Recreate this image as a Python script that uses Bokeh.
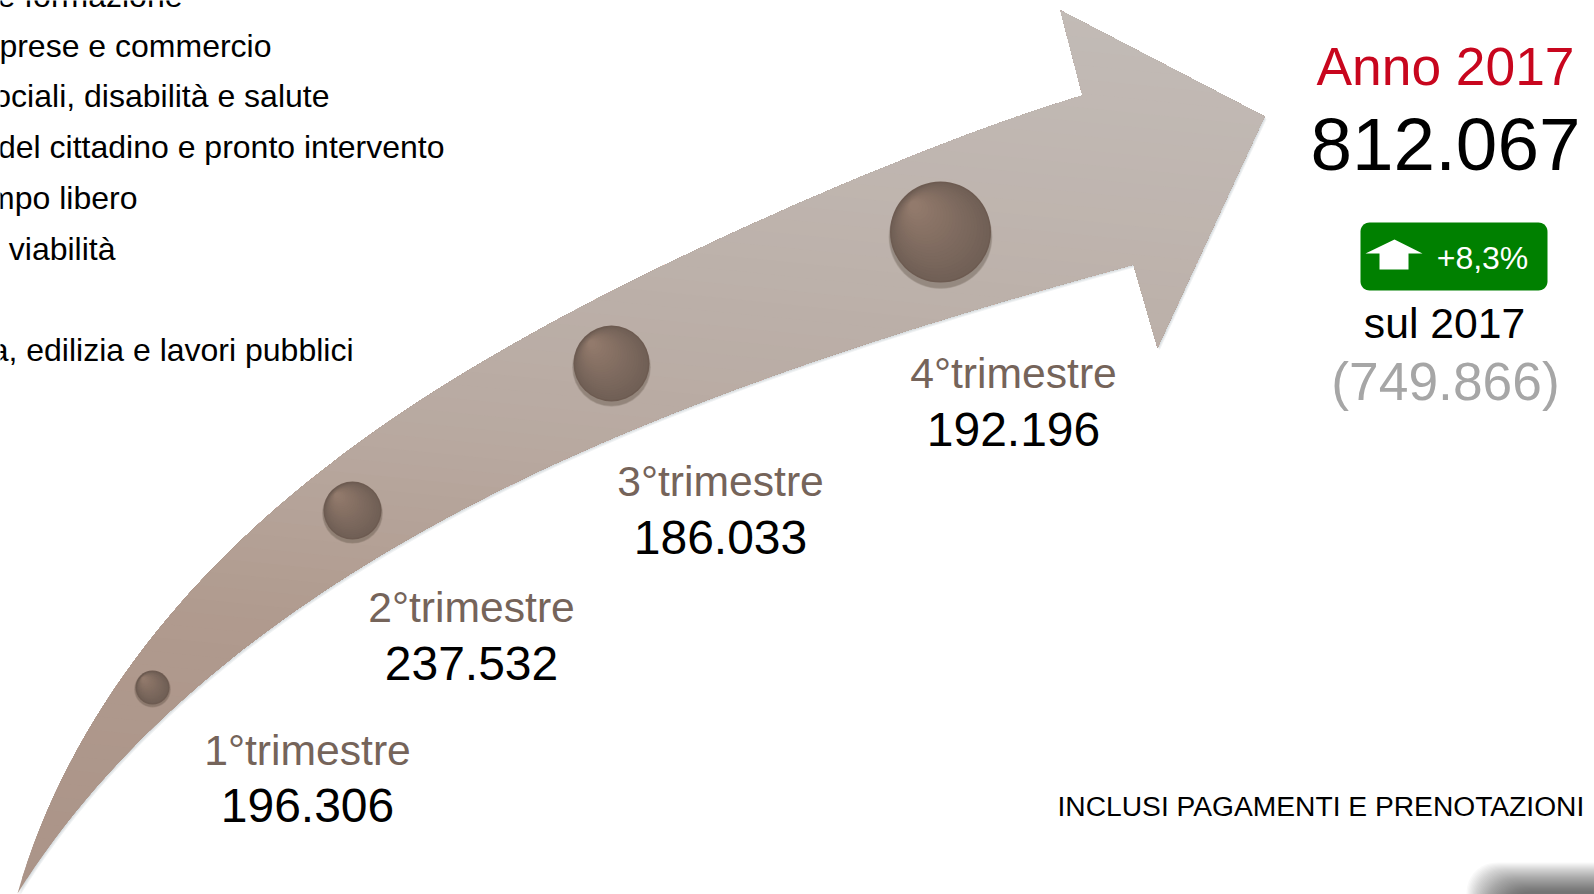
import math
import numpy as np
from bokeh.plotting import figure
from bokeh.models import Range1d
from bokeh.core.properties import value
from bokeh.embed import file_html
from bokeh.resources import INLINE

# ---- content -------------------------------------------------------------
QUARTERS = ["1°trimestre", "2°trimestre", "3°trimestre", "4°trimestre"]
QUARTER_VALUES = ["196.306", "237.532", "186.033", "192.196"]
QUARTER_X = [307, 471, 720, 1013]
LABEL_BASE = [765, 622, 496, 388]
VALUE_BASE = [822, 680, 554, 446]

BALL_X = [152, 352, 611, 940]
BALL_Y = [687, 510, 363, 231.5]
BALL_R = [17, 29, 38, 50.5]

SECTORS = ["e formazione", "prese e commercio", "sociali, disabilità e salute",
           "del cittadino e pronto intervento", "mpo libero", "e viabilità",
           "a, edilizia e lavori pubblici"]
SECTOR_RIGHT = [182, 271, 329, 444, 137, 115, 353]
SECTOR_BASE = [7, 57, 107, 158, 209, 260, 361]

# arrow outline (px)
UPPER_X = [17, 42, 80, 130, 152, 200, 280, 353, 433, 500, 533, 600, 700, 800, 850, 950, 1082]
UPPER_Y = [893, 820, 740, 670, 640, 577, 500, 447, 397, 350, 333, 293, 247, 205, 180, 140, 95]
HEAD_X = [1060, 1264, 1157, 1133]
HEAD_Y = [10, 116, 347, 264]
LOWER_X = [1133, 1050, 950, 850, 750, 650, 600, 500, 433, 367, 297, 217, 147, 70, 17]
LOWER_Y = [264, 283, 320, 350, 383, 417, 443, 493, 527, 560, 607, 670, 733, 817, 893]

GRAD_S = [-890, -600, -400, -250, -100, 100]
GRAD_C = [(171, 148, 136), (176, 154, 142), (184, 169, 160), (187, 175, 168), (191, 181, 175), (194, 187, 182)]


def smooth(xs, ys, deg=5, n=80):
    xs, ys = np.array(xs, float), np.array(ys, float)
    d = np.r_[0, np.cumsum(np.hypot(np.diff(xs), np.diff(ys)))]
    t = d / d[-1]
    w = np.ones_like(t)
    w[0] = w[-1] = 30
    tt = np.linspace(0, 1, n)
    return (np.polyval(np.polyfit(t, xs, deg, w=w), tt).tolist(),
            np.polyval(np.polyfit(t, ys, deg, w=w), tt).tolist())


def lerp_colour(stops_s, stops_c, s):
    if s <= stops_s[0]:
        return stops_c[0]
    for a, b, ca, cb in zip(stops_s, stops_s[1:], stops_c, stops_c[1:]):
        if s <= b:
            t = (s - a) / (b - a)
            return tuple(ca[i] + (cb[i] - ca[i]) * t for i in range(3))
    return stops_c[-1]


def hexc(c):
    return "#%02x%02x%02x" % tuple(int(round(v)) for v in c)


def clip_above(xs, ys, s0):
    """keep the part of the outline with s = 0.1x - y >= s0"""
    out_x, out_y = [], []
    n = len(xs)
    for i in range(n):
        x1, y1, x2, y2 = xs[i], ys[i], xs[(i + 1) % n], ys[(i + 1) % n]
        s1, s2 = 0.1 * x1 - y1, 0.1 * x2 - y2
        if s1 >= s0:
            out_x.append(x1)
            out_y.append(y1)
        if (s1 >= s0) != (s2 >= s0):
            t = (s0 - s1) / (s2 - s1)
            out_x.append(x1 + (x2 - x1) * t)
            out_y.append(y1 + (y2 - y1) * t)
    return out_x, out_y


def rounded(x0, x1, y0, y1, r):
    bx, by = [], []
    for (cx, cy, a0) in [(x1 - r, y0 + r, -90), (x1 - r, y1 - r, 0), (x0 + r, y1 - r, 90), (x0 + r, y0 + r, 180)]:
        for d in range(0, 91, 10):
            bx.append(cx + r * math.cos(math.radians(a0 + d)))
            by.append(cy + r * math.sin(math.radians(a0 + d)))
    return bx, by


p = figure(width=1594, height=894, output_backend="svg", toolbar_location=None,
           x_range=Range1d(0, 1594), y_range=Range1d(894, 0),
           min_border=0, outline_line_color=None, background_fill_color="white",
           border_fill_color="white")
p.axis.visible = False
p.grid.visible = False
p.styles = {"position": "absolute", "left": "0px", "top": "0px"}

FONT = value("Liberation Sans")
BASE_FIX = 0.36


def txt(x, y, s, size, colour, align="center"):
    p.text([x], [y - BASE_FIX * size], text=[s], text_font=FONT, text_font_size=f"{size}px", text_color=colour,
           text_align=align, text_baseline="alphabetic")


# corner shadow
for k in range(30):
    xs, ys = rounded(1466 + k * 1.2, 1660, 862 + k, 960, 30)
    p.patch(xs, ys, fill_color="black", fill_alpha=0.025, line_color=None)

ux, uy = smooth(UPPER_X, UPPER_Y)
lx, ly = smooth(LOWER_X, LOWER_Y)
arrow_x = ux + HEAD_X + lx[1:]
arrow_y = uy + HEAD_Y + ly[1:]

# soft shadow of the arrow
for k in range(1, 4):
    p.patch([x + k * 0.7 for x in arrow_x], [y + k * 0.9 for y in arrow_y],
            fill_color="#6f7f86", fill_alpha=0.10, line_color=None)

# arrow with gradient: painted bands, each over the previous
s_start, s_end = -890.0, 100.0
N = 70
p.patch(arrow_x, arrow_y, fill_color=hexc(GRAD_C[0]), line_color=None)
for i in range(1, N):
    s0 = s_start + (s_end - s_start) * i / N
    bx, by = clip_above(arrow_x, arrow_y, s0)
    if len(bx) >= 3:
        p.patch(bx, by, fill_color=hexc(lerp_colour(GRAD_S, GRAD_C, s0)), line_color=None)

# balls
HILITE = (146, 122, 108)
DARK = (113, 96, 86)
for cx, cy, r in zip(BALL_X, BALL_Y, BALL_R):
    for k in range(5, 0, -1):
        p.circle([cx], [cy + r * 0.1], radius=r + k * 0.3, fill_color="#4a4038", fill_alpha=0.08, line_color=None)
    p.circle([cx], [cy], radius=r, fill_color="#6d5b51", line_color=None)
    layers = 24
    for i in range(layers):
        t = i / (layers - 1)
        rr = (r - 1.5) * (1 - t * 0.9)
        ox = cx - r * 0.52 * t
        oy = cy - r * 0.52 * t
        c = tuple(DARK[j] + (HILITE[j] - DARK[j]) * t for j in range(3))
        p.circle([ox], [oy], radius=rr, fill_color=hexc(c), line_color=None)

# quarter labels
for name, val, x, b1, b2 in zip(QUARTERS, QUARTER_VALUES, QUARTER_X, LABEL_BASE, VALUE_BASE):
    txt(x, b1, name, 42.67, "#75645a")
    txt(x, b2, val, 48, "black")

# sector rows, clipped by the left edge
for s, x, b in zip(SECTORS, SECTOR_RIGHT, SECTOR_BASE):
    txt(x, b, s, 32, "black", "right")

# right column
txt(1445, 85, "Anno 2017", 53.33, "#c8061e")
txt(1445, 171, "812.067", 74.67, "black")
txt(1444, 338, "sul 2017", 42.67, "black")
txt(1445, 400, "(749.866)", 53.33, "#a6a6a6")
txt(1057, 816, "INCLUSI PAGAMENTI E PRENOTAZIONI", 28.2, "black", "left")

# green badge
bx, by = rounded(1360, 1547, 222, 290, 9)
p.patch(bx, by, fill_color="#008000", line_color=None)
p.patch([1365, 1394, 1422, 1408, 1408, 1379, 1379], [253, 239, 253, 253, 269, 269, 253],
        fill_color="white", line_color=None)
txt(1482, 269, "+8,3%", 32, "white")

open("out.html", "w").write(file_html(p, INLINE))
